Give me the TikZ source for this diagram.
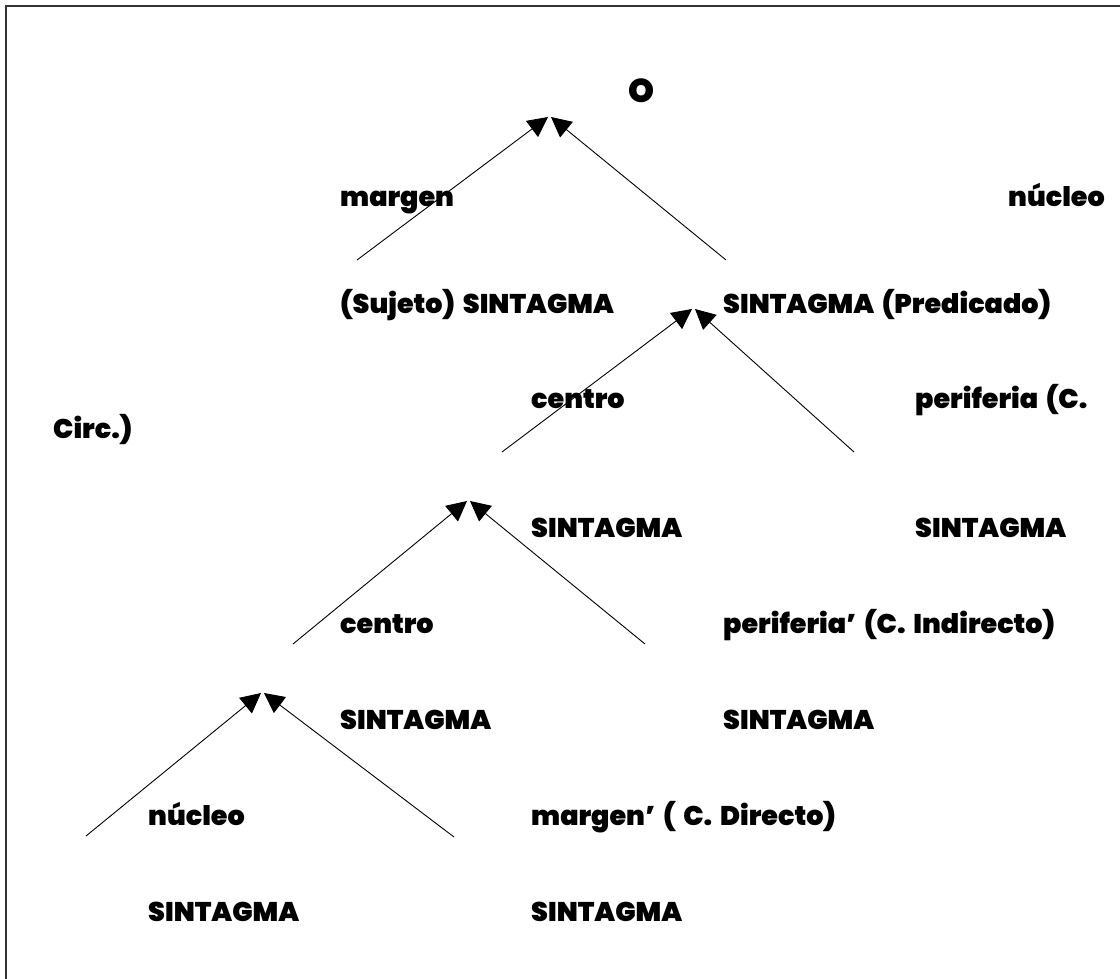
\documentclass[tikz,border=0pt]{standalone}
\usepackage{fontspec}
\setmainfont{Poppins}[BoldFont={Poppins Black}, WordSpace=1.7]
\usetikzlibrary{arrows.meta}
\begin{document}
\begin{tikzpicture}[x=1pt,y=-1pt,
  lbl/.style={anchor=base west, inner sep=0pt, font=\fontsize{27}{31}\selectfont\bfseries},
  big/.style={anchor=base west, inner sep=0pt, font=\fontsize{33}{38}\selectfont\bfseries},
  branch/.style={-{Triangle[length=20pt,width=20pt]}, line width=0.9pt},
  frame/.style={line width=1.6pt, black!80}]
\useasboundingbox (0,0) rectangle (1120,979);
\draw[frame] (6,979) -- (6,6) -- (1120,6);

% texts
\node[big] (O) at (628,103) {O};
\node[lbl] (margen) at (340,207) {margen};
\node[lbl] (nucleoA) at (1008,207) {núcleo};
\node[lbl] (sujeto) at (340,313) {(Sujeto) SINTAGMA};
\node[lbl] (predicado) at (723,313) {SINTAGMA (Predicado)};
\node[lbl] (centroA) at (531,408) {centro};
\node[lbl] (periferia) at (915,408) {periferia (C.};
\node[lbl] (circ) at (53,438) {Circ.)};
\node[lbl] (sintA) at (531,537) {SINTAGMA};
\node[lbl] (sintB) at (915,537) {SINTAGMA};
\node[lbl] (centroB) at (340,633) {centro};
\node[lbl] (periferiaB) at (723,633) {periferia’ (C. Indirecto)};
\node[lbl] (sintC) at (340,729) {SINTAGMA};
\node[lbl] (sintD) at (723,729) {SINTAGMA};
\node[lbl] (nucleoB) at (148,825) {núcleo};
\node[lbl] (margenB) at (531,825) {margen’ ( C. Directo)};
\node[lbl] (sintE) at (148,921) {SINTAGMA};
\node[lbl] (sintF) at (531,921) {SINTAGMA};

% branch end points
\coordinate (a1l) at (357,260);
\coordinate (a1r) at (726,260);
\coordinate (t1l) at (548,117);
\coordinate (t1r) at (551,117);
\coordinate (a2l) at (502,452);
\coordinate (a2r) at (854,452);
\coordinate (t2l) at (692,309);
\coordinate (t2r) at (695,309);
\coordinate (a3l) at (293,644);
\coordinate (a3r) at (645,644);
\coordinate (t3l) at (467,501);
\coordinate (t3r) at (470,501);
\coordinate (a4l) at (86,836);
\coordinate (a4r) at (454,837);
\coordinate (t4l) at (261,693);
\coordinate (t4r) at (264,693);

\draw[branch] (a1l) -- (t1l);
\draw[branch] (a1r) -- (t1r);
\draw[branch] (a2l) -- (t2l);
\draw[branch] (a2r) -- (t2r);
\draw[branch] (a3l) -- (t3l);
\draw[branch] (a3r) -- (t3r);
\draw[branch] (a4l) -- (t4l);
\draw[branch] (a4r) -- (t4r);
\end{tikzpicture}
\end{document}
